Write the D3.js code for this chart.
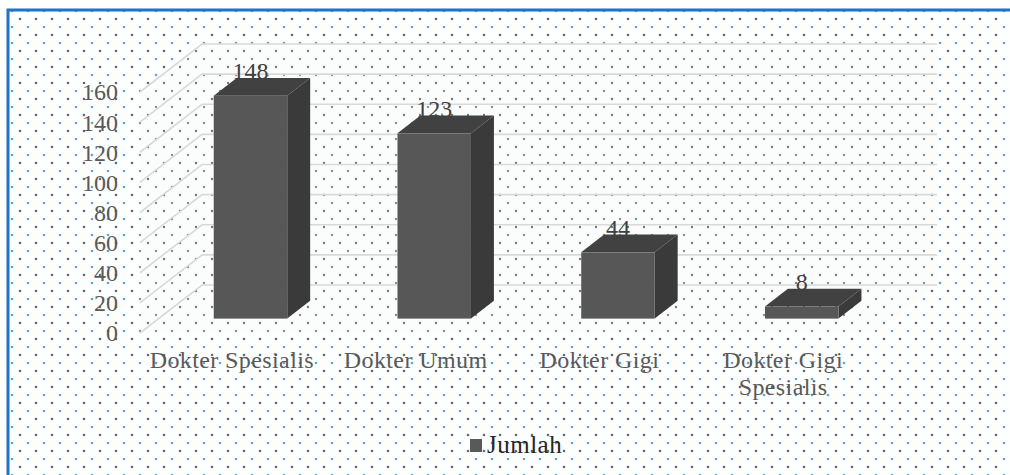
<!DOCTYPE html>
<html lang="en">
<head>
    <meta charset="UTF-8">
    <title>Jumlah Dokter</title>
    <style>
        body { margin: 0; background: #fff; }
        text { font-family: "Liberation Serif", "DejaVu Serif", serif; }
        .grid { stroke: #d9d9d9; stroke-width: 1.6px; fill: none; }
        .tick-label { font-size: 24px; fill: #595959; }
        .cat-label { font-size: 24px; fill: #595959; letter-spacing: 0.4px; }
        .val-label { font-size: 24px; fill: #404040; }
    </style>
</head>
<body>
<svg width="1010" height="475"></svg>
<script src="https://cdn.jsdelivr.net/npm/d3@7"></script>
<script>
    // data
    var categories = ["Dokter Spesialis", "Dokter Umum", "Dokter Gigi", "Dokter Gigi Spesialis"];
    var values = [148, 123, 44, 8];
    var yTicks = [0, 20, 40, 60, 80, 100, 120, 140, 160];
    var seriesName = "Jumlah";

    var svg = d3.select("svg"),
        width = +svg.attr("width"),
        height = +svg.attr("height");

    // dotted background patterns
    var defs = svg.append("defs");
    var pat = defs.append("pattern")
        .attr("id", "dots")
        .attr("width", 16).attr("height", 16)
        .attr("patternUnits", "userSpaceOnUse");
    pat.append("rect").attr("width", 16).attr("height", 16).attr("fill", "#fdfefe");
    pat.append("circle").attr("cx", 4).attr("cy", 3).attr("r", 1.3).attr("fill", "#5f6b70");
    pat.append("circle").attr("cx", 12).attr("cy", 11).attr("r", 1.3).attr("fill", "#5aa9d2");

    var pat2 = defs.append("pattern")
        .attr("id", "dots2")
        .attr("width", 16).attr("height", 16)
        .attr("patternUnits", "userSpaceOnUse");
    pat2.append("rect").attr("width", 16).attr("height", 16).attr("fill", "#fbfcfc");
    pat2.append("circle").attr("cx", 4).attr("cy", 3).attr("r", 1.2).attr("fill", "#6f787b");
    pat2.append("circle").attr("cx", 12).attr("cy", 11).attr("r", 1.2).attr("fill", "#7f949c");

    svg.append("rect")
        .attr("x", 8).attr("y", 10)
        .attr("width", width - 8).attr("height", height - 10)
        .attr("fill", "url(#dots)");

    // border (top + left)
    svg.append("path")
        .attr("d", "M8," + height + "V10H" + width)
        .attr("fill", "none")
        .attr("stroke", "#1f72c4")
        .attr("stroke-width", 3);

    // scales (front plane)
    var x = d3.scaleBand().domain(categories).range([140, 875]);
    var y = d3.scaleLinear().domain([0, 160]).range([333, 92]);
    var depth = { dx: 62, dy: -48 };
    var f1 = 0.3, f2 = 0.67;      // bar front / back depth fraction
    var barW = x.bandwidth() * 0.4;

    // walls
    var yTop = y(160), y0 = y(0);
    var xL = x.range()[0], xR = x.range()[1];
    svg.append("path")
        .attr("d", "M" + xL + "," + yTop + "L" + (xL + depth.dx) + "," + (yTop + depth.dy) +
            "H" + (xR + depth.dx) + "V" + (y0 + depth.dy) + "L" + xR + "," + y0 + "H" + xL + "Z")
        .attr("fill", "url(#dots2)");

    var g = svg.append("g");

    // gridlines: side wall diagonals + back wall horizontals
    g.selectAll(".side")
        .data(yTicks)
        .enter().append("path")
        .attr("class", "grid")
        .attr("d", function (d) {
            return "M" + xL + "," + y(d) + "L" + (xL + depth.dx) + "," + (y(d) + depth.dy) +
                "H" + (xR + depth.dx);
        });

    // y tick labels
    g.selectAll(".tick-label")
        .data(yTicks)
        .enter().append("text")
        .attr("class", "tick-label")
        .attr("x", 118)
        .attr("y", function (d) { return y(d); })
        .attr("dy", "0.35em")
        .attr("text-anchor", "end")
        .text(function (d) { return d; });

    // 3d bars
    var bars = g.selectAll(".bar")
        .data(values)
        .enter().append("g")
        .attr("class", "bar");

    function corner(i, v, f) {
        var cx = x(categories[i]) + x.bandwidth() / 2 + f * depth.dx;
        return { l: cx - barW / 2, r: cx + barW / 2, b: y(0) + f * depth.dy, t: y(v) + f * depth.dy };
    }

    bars.each(function (v, i) {
        var s = d3.select(this);
        var fr = corner(i, v, f1), bk = corner(i, v, f2);
        // side
        s.append("path")
            .attr("d", "M" + fr.r + "," + fr.t + "L" + bk.r + "," + bk.t + "L" + bk.r + "," + bk.b +
                "L" + fr.r + "," + fr.b + "Z")
            .attr("fill", "#3a3a3a");
        // top
        s.append("path")
            .attr("d", "M" + fr.l + "," + fr.t + "L" + bk.l + "," + bk.t + "L" + bk.r + "," + bk.t +
                "L" + fr.r + "," + fr.t + "Z")
            .attr("fill", "#414141");
        // front
        s.append("rect")
            .attr("x", fr.l).attr("y", fr.t)
            .attr("width", barW).attr("height", fr.b - fr.t)
            .attr("fill", "#575757");
        // value label
        s.append("text")
            .attr("class", "val-label")
            .attr("x", (fr.l + fr.r) / 2)
            .attr("y", bk.t + 1)
            .attr("text-anchor", "middle")
            .text(v);
    });

    // category labels (wrapped)
    var cats = g.selectAll(".cat-label")
        .data(categories)
        .enter().append("text")
        .attr("class", "cat-label")
        .attr("x", function (d) { return x(d) + x.bandwidth() / 2; })
        .attr("y", 368)
        .attr("text-anchor", "middle");

    cats.each(function (d) {
        var t = d3.select(this), words = d.split(" "), line = [], lines = [];
        var test = t.append("tspan");
        words.forEach(function (w) {
            line.push(w);
            test.text(line.join(" "));
            if (test.node().getComputedTextLength() > 178 && line.length > 1) {
                line.pop();
                lines.push(line.join(" "));
                line = [w];
            }
        });
        lines.push(line.join(" "));
        test.remove();
        lines.forEach(function (l, k) {
            t.append("tspan")
                .attr("x", x(d) + x.bandwidth() / 2)
                .attr("dy", k === 0 ? 0 : 27)
                .text(l);
        });
    });

    // legend
    var legend = svg.append("g").attr("transform", "translate(470,439)");
    legend.append("rect").attr("width", 12).attr("height", 13).attr("fill", "#595959");
    legend.append("text")
        .attr("x", 17).attr("y", 14)
        .attr("font-size", 25)
        .attr("letter-spacing", "0.5px")
        .attr("fill", "#262626")
        .text(seriesName);
</script>
</body>
</html>
